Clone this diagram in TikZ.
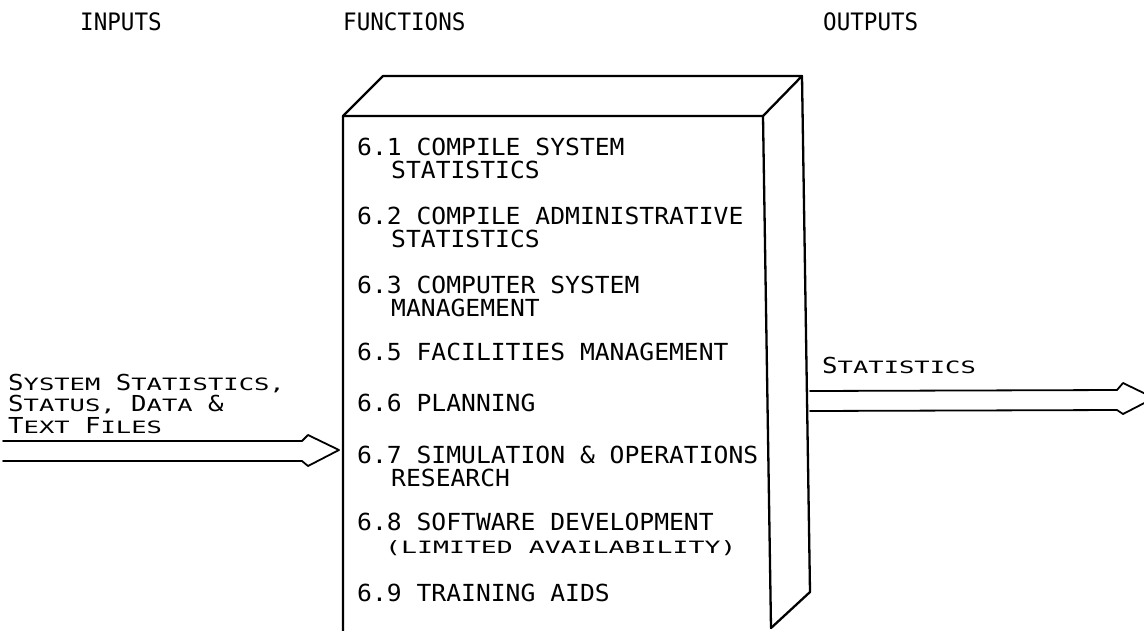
\documentclass[tikz,border=0pt]{standalone}
\usepackage{fontspec}
\newfontfamily\itemfont[FakeStretch=1.05]{DejaVu Sans Mono}
\newfontfamily\headfont[FakeStretch=0.94]{DejaVu Sans Mono}
% small-capital lettering: full capitals and reduced capitals on the same pitch
\newfontfamily\scbig[FakeStretch=1.17]{DejaVu Sans Mono}
\newfontfamily\scsmall[FakeStretch=1.5]{DejaVu Sans Mono}
\newfontfamily\scwide[FakeStretch=1.56]{DejaVu Sans Mono}
\newcommand\scL{\scbig\fontsize{22}{22}\selectfont}
\newcommand\scS{\scsmall\fontsize{17}{22}\selectfont}
\newcommand\scW{\scwide\fontsize{17}{22}\selectfont}
\newcommand\scw[2]{{\scL #1}{\scS #2}}
\tikzset{
  item/.style={font=\itemfont\fontsize{23.5}{24}\selectfont, inner sep=0pt, anchor=base west},
  head/.style={font=\headfont\fontsize{24}{24}\selectfont, inner sep=0pt, anchor=base west},
  sclabel/.style={font=\scS, inner sep=0pt, anchor=base west},
  edge/.style={line width=2.3pt, line join=round, line cap=round},
  flow/.style={line width=1.8pt, line join=round, line cap=round}
}
\begin{document}
\begin{tikzpicture}[x=1pt,y=-1pt]
\useasboundingbox (0,0) rectangle (1144,630);
\clip (0,0) rectangle (1144,630);

% column headings
\node[head] (hin)  at (80,30)  {INPUTS};
\node[head] (hfn)  at (343,30) {FUNCTIONS};
\node[head] (hout) at (823,30) {OUTPUTS};

% the function block, drawn as an open box in perspective
\coordinate (fl) at (343,116);   % front top left
\coordinate (fr) at (763,116);   % front top right
\coordinate (bl) at (383,76);    % back top left
\coordinate (br) at (802,76);    % back top right
\coordinate (brb) at (810,592);  % back bottom right
\coordinate (frb) at (771,628);  % front bottom right
\coordinate (flb) at (343,632);  % front bottom left
\draw[edge] (flb) -- (fl) -- (fr) -- (frb);
\draw[edge] (fl) -- (bl) -- (br) -- (fr);
\draw[edge] (br) -- (brb) -- (frb);

% list of functions
\node[item] (f61)  at (357,155.5) {6.1 COMPILE SYSTEM};
\node[item] (f61b) at (391,178.5) {STATISTICS};
\node[item] (f62)  at (357,224.5) {6.2 COMPILE ADMINISTRATIVE};
\node[item] (f62b) at (391,247.5) {STATISTICS};
\node[item] (f63)  at (357,293.5) {6.3 COMPUTER SYSTEM};
\node[item] (f63b) at (391,316.5) {MANAGEMENT};
\node[item] (f65)  at (357,360.5) {6.5 FACILITIES MANAGEMENT};
\node[item] (f66)  at (357,411.5) {6.6 PLANNING};
\node[item] (f67)  at (357,463.5) {6.7 SIMULATION \& OPERATIONS};
\node[item] (f67b) at (391,486.5) {RESEARCH};
\node[item] (f68)  at (357,530.5) {6.8 SOFTWARE DEVELOPMENT};
\node[sclabel, font=\scW] (f68b) at (385,553) {(LIMITED AVAILABILITY)};
\node[item] (f69)  at (357,601.5) {6.9 TRAINING AIDS};

% input label and arrow
\node[sclabel] (in1) at (8,390) {\scw{S}{YSTEM} \scw{S}{TATISTICS,}};
\node[sclabel] (in2) at (8,411) {\scw{S}{TATUS,} \scw{D}{ATA} {\scL\&}};
\node[sclabel] (in3) at (8,433) {\scw{T}{EXT} \scw{F}{ILES}};
\coordinate (inA) at (3,441);
\coordinate (inB) at (3,461);
\draw[flow] (inA) -- (302,441) -- (308,435) -- (339,450) -- (308,466) -- (302,461) -- (inB);

% output label and arrow
\node[sclabel] (out1) at (822,373) {\scw{S}{TATISTICS}};
\coordinate (outA) at (810,391);
\coordinate (outB) at (810,411);
\draw[flow] (outA) -- (1117,390) -- (1123,383) -- (1154,398) -- (1123,414) -- (1117,410) -- (outB);
\end{tikzpicture}
\end{document}
